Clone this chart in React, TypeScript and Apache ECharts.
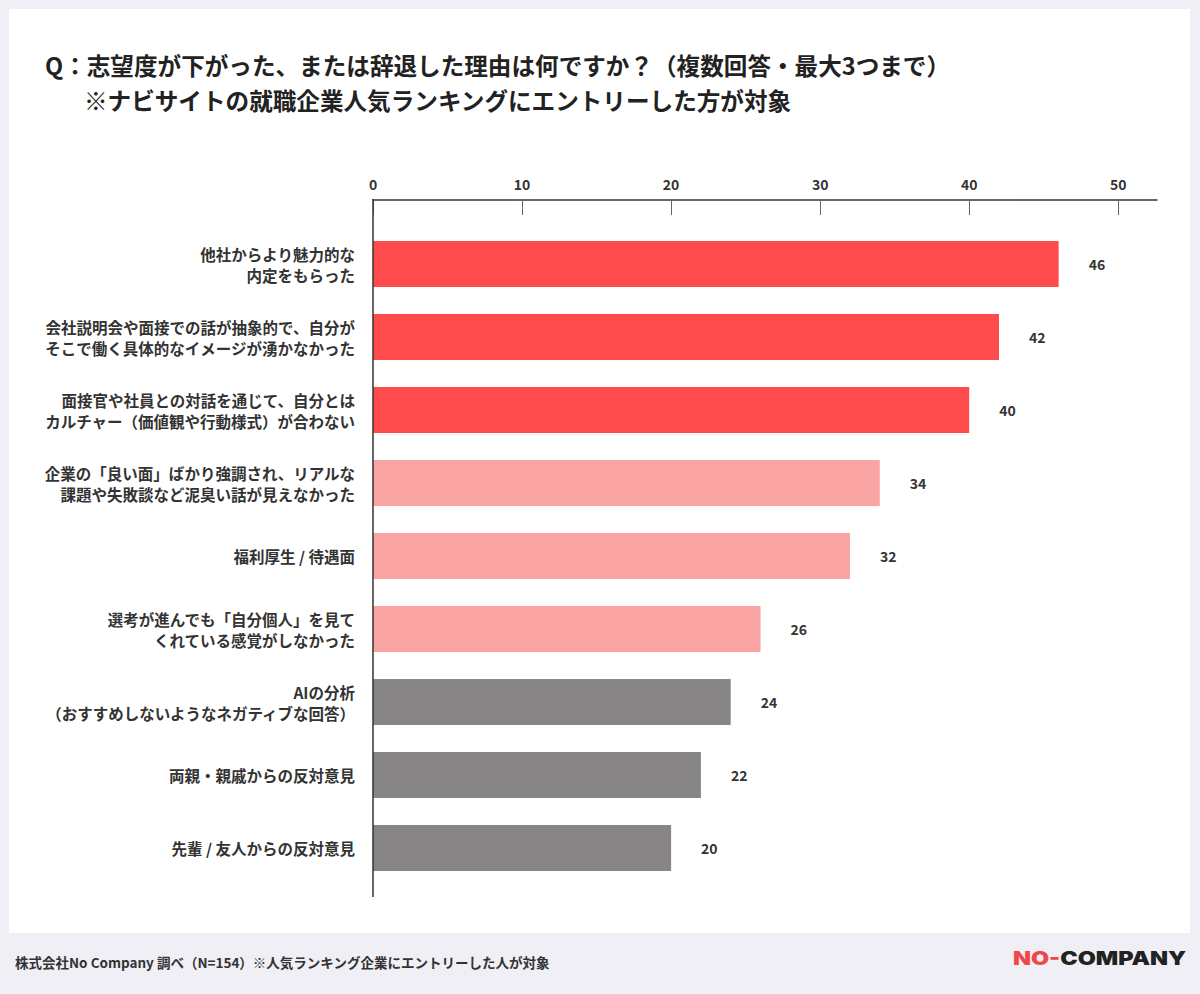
import React, { useEffect, useRef } from "react";
import * as echarts from "echarts";

const titleLine1 = "Q：志望度が下がった、または辞退した理由は何ですか？（複数回答・最大3つまで）";
const titleLine2 = "※ナビサイトの就職企業人気ランキングにエントリーした方が対象";
const footerText = "株式会社No Company 調べ（N=154）※人気ランキング企業にエントリーした人が対象";

const categories = [
  "他社からより魅力的な\n内定をもらった",
  "会社説明会や面接での話が抽象的で、自分が\nそこで働く具体的なイメージが湧かなかった",
  "面接官や社員との対話を通じて、自分とは\nカルチャー（価値観や行動様式）が合わない",
  "企業の「良い面」ばかり強調され、リアルな\n課題や失敗談など泥臭い話が見えなかった",
  "福利厚生 / 待遇面",
  "選考が進んでも「自分個人」を見て\nくれている感覚がしなかった",
  "AIの分析\n（おすすめしないようなネガティブな回答）",
  "両親・親戚からの反対意見",
  "先輩 / 友人からの反対意見",
];
const values = [46, 42, 40, 34, 32, 26, 24, 22, 20];
const tickValues = [0, 10, 20, 30, 40, 50];

const FONT = "'Noto Sans CJK JP', 'Noto Sans', sans-serif";
const RED = "#ff4b4b";
const PINK = "#f9a4a2";
const GRAY = "#888587";

export default function App() {
  const ref = useRef<HTMLDivElement>(null);
  useEffect(() => {
    document.body.style.margin = "0";
    if (!ref.current) return;
    const chart = echarts.init(ref.current, null, { renderer: "svg" });
    chart.setOption({
      animation: false,
      backgroundColor: "#efeff5",
      textStyle: { fontFamily: FONT },
      grid: { left: 373, right: 43, top: 227.5, bottom: 109.5, containLabel: false },
      xAxis: {
        type: "value",
        position: "top",
        offset: 27.5,
        min: 0,
        max: 52.6,
        interval: 10,
        splitLine: { show: false },
        axisLine: { show: true, lineStyle: { color: "#333", width: 1.5 } },
        axisTick: {
          show: true,
          inside: true,
          length: 15,
          customValues: tickValues,
          lineStyle: { color: "#666", width: 1 },
        },
        axisLabel: {
          customValues: tickValues,
          margin: 9,
          color: "#333",
          fontSize: 14,
          fontWeight: "bold",
          fontFamily: FONT,
        },
      },
      yAxis: {
        type: "category",
        data: categories,
        inverse: true,
        axisLine: { show: false },
        axisTick: { show: false },
        axisLabel: {
          margin: 18,
          color: "#333",
          fontSize: 15.5,
          fontWeight: "bold",
          lineHeight: 21,
          align: "right",
          fontFamily: FONT,
        },
      },
      series: [
        {
          type: "bar",
          data: values,
          barWidth: 46,
          itemStyle: {
            color: (p: any) => (p.dataIndex < 3 ? RED : p.dataIndex < 6 ? PINK : GRAY),
          },
          label: {
            show: true,
            position: "right",
            distance: 30,
            color: "#333",
            fontSize: 14,
            fontWeight: "bold",
            fontFamily: FONT,
          },
        },
      ],
      graphic: [
        {
          type: "rect",
          z: -10,
          shape: { x: 9, y: 9, width: 1181, height: 924 },
          style: { fill: "#ffffff" },
          silent: true,
        },
        {
          type: "line",
          z: 10,
          shape: { x1: 373, y1: 199, x2: 373, y2: 897 },
          style: { stroke: "#333", lineWidth: 1.5 },
        },
        {
          type: "text",
          x: 45,
          y: 65,
          style: {
            text: titleLine1,
            font: `bold 23.6px ${FONT}`,
            fill: "#222",
            textVerticalAlign: "middle",
          },
        },
        {
          type: "text",
          x: 84,
          y: 100,
          style: {
            text: titleLine2,
            font: `bold 23.6px ${FONT}`,
            fill: "#222",
            textVerticalAlign: "middle",
          },
        },
        {
          type: "text",
          x: 15,
          y: 962,
          style: {
            text: footerText,
            font: `bold 13.5px ${FONT}`,
            fill: "#333",
            textVerticalAlign: "middle",
          },
        },
        {
          type: "group",
          x: 1013,
          y: 958,
          scaleX: 1.3,
          scaleY: 1.05,
          children: [
            {
              type: "text",
              x: 0,
              y: 0,
              style: {
                text: "{r|NO-}{k|COMPANY}",
                textVerticalAlign: "middle",
                rich: {
                  r: { fontSize: 18, fontWeight: 900, fontFamily: "Inter, 'DejaVu Sans', sans-serif", fill: "#f04848", color: "#f04848" },
                  k: { fontSize: 18, fontWeight: 900, fontFamily: "Inter, 'DejaVu Sans', sans-serif", fill: "#222", color: "#222" },
                },
              },
            },
          ],
        },
      ],
    });
    return () => chart.dispose();
  }, []);
  return (
    <div style={{ position: "absolute", left: 0, top: 0, width: 1200, height: 994 }}>
      <div ref={ref} style={{ width: 1200, height: 994 }} />
    </div>
  );
}
